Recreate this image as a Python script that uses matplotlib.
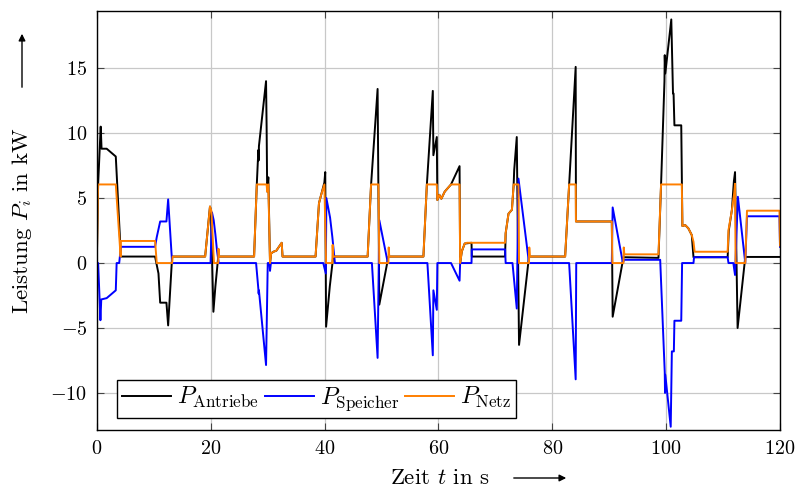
#!/usr/bin/env python3

import numpy as np
import matplotlib
matplotlib.use("Agg")
import matplotlib.pyplot as plt

# Leistung der Antriebe (schwarz)
t_antriebe = [0, 0.2, 0.65, 0.8, 1.7, 3.3, 4.2, 10.2, 10.8, 11.1, 12.2, 12.5, 13.2,
              19.0, 19.85, 20.0, 20.45, 20.8, 21.3,
              27.6, 28.07, 28.35, 28.4, 28.45, 29.7, 29.8, 29.9, 30.1, 30.4, 30.6, 31.0, 31.5, 32.45, 32.6,
              38.4, 39.0, 39.35, 39.95, 40.1, 40.25, 40.9, 41.5,
              47.55, 48.15, 49.3, 49.6, 51.2,
              57.35, 57.95, 59.0, 59.1, 59.7, 59.8, 60.15, 60.5, 61.1, 62.2, 63.7, 63.8, 64.1, 64.6, 65.8, 65.85,
              71.7, 71.8, 72.3, 72.9, 73.2, 73.3, 73.75, 74.15, 75.9,
              82.25, 82.95, 84.1, 84.15, 90.45, 90.6, 92.5,
              98.65, 99.1, 99.7, 99.75, 99.85, 100.9, 101.2, 101.3, 101.45, 102.65, 102.85,
              103.35, 103.9, 104.5, 104.8, 110.8, 111.0, 111.55, 111.9, 112.1, 112.55, 113.9, 120]
p_antriebe = [1.0, 6.1, 10.5, 8.8, 8.8, 8.2, 0.5, 0.5, -0.8, -3.05, -3.05, -4.8, 0.5,
              0.5, 4.35, 4.1, -3.75, -1.8, 0.5,
              0.5, 6.0, 8.7, 7.9, 9.0, 14.0, 10.5, 5.5, 6.6, 0.0, 0.75, 0.87, 0.95, 1.56, 0.5,
              0.5, 4.6, 5.2, 6.2, 7.0, -4.9, -1.8, 0.5,
              0.5, 6.0, 13.4, -3.2, 0.5,
              0.5, 6.0, 13.25, 8.3, 9.7, 4.85, 5.25, 4.95, 5.5, 6.05, 7.46, 0.0, 0.9, 1.5, 1.56, 0.5,
              0.5, 2.3, 3.8, 4.1, 6.0, 7.15, 9.7, -6.3, 0.5,
              0.5, 6.0, 15.1, 3.2, 3.2, -4.13, 0.45,
              0.4, 6.0, 14.0, 16.0, 14.6, 18.75, 13.05, 13.05, 10.6, 10.6, 2.85,
              2.92, 2.67, 2.15, 0.45, 0.45, 2.5, 4.1, 6.3, 7.0, -5.0, 0.47, 0.47]

# Leistung des Speichers (blau)
t_speicher = [0, 0.2, 0.6, 0.75, 1.7, 3.3, 3.45, 3.9, 4.2, 10.2, 10.5, 11.1, 12.2, 12.5, 13.2,
              19.95, 20.2, 20.5, 20.8, 21.1, 21.4,
              27.95, 28.35, 28.4, 28.45, 29.7, 30.0, 30.3, 30.4, 30.55,
              39.75, 40.2, 40.3, 40.95, 41.35, 41.8,
              48.3, 49.3, 49.6, 51.1,
              58.05, 59.0, 59.1, 59.7, 59.8, 62.2, 63.7, 63.8, 65.8, 65.85,
              71.7, 71.8, 73.0, 73.75, 74.05, 75.9,
              82.95, 84.1, 84.2, 90.45, 90.6, 92.4, 92.6,
              98.95, 99.75, 99.8, 99.85, 100.8, 101.0, 101.35, 101.45, 102.65, 102.8,
              104.8, 104.9, 110.8, 110.95, 111.8, 112.1, 112.6, 113.9, 114.2, 119.9, 120]
p_speicher = [0, 0, -4.4, -2.8, -2.7, -2.1, 0.0, 0.0, 1.25, 1.25, 2.0, 3.2, 3.2, 4.9, 0.0,
              0.0, 3.9, 3.3, 2.2, 0.9, 0.0,
              0.0, -2.0, -2.35, -2.1, -7.85, 0.0, 0.0, -0.6, 0.0,
              0.0, -0.8, 5.0, 3.5, 2.0, 0.0,
              0.0, -7.3, 3.3, 0.0,
              0.0, -7.1, -2.1, -3.6, 0.0, 0.0, -1.36, 0.0, 0.0, 1.05,
              1.05, 0.0, 0.0, -3.5, 6.5, 0.0,
              0.0, -8.95, 0.0, 0.0, 4.28, 0.0, 0.25,
              0.25, -8.4, -10.0, -8.6, -12.6, -6.8, -6.8, -4.44, -4.44, 0.0,
              0.0, 0.45, 0.45, 0.0, 0.0, -0.92, 5.1, 0.0, 3.6, 3.6, 1.25]

# Leistung aus dem Netz (orange)
t_netz = [0, 0.2, 3.3, 4.15, 4.2, 10.2, 10.5, 13.2, 13.3,
          19.0, 19.85, 20.1, 20.55, 21.3, 21.35, 21.45,
          27.6, 28.07, 29.8, 29.9, 30.1, 30.4, 30.6, 31.0, 31.5, 32.45, 32.6,
          38.4, 39.0, 39.35, 39.95, 40.25, 41.35, 41.4, 41.5,
          47.55, 48.15, 49.45, 49.6, 51.2, 51.25, 51.35,
          57.35, 57.95, 59.7, 59.8, 60.15, 60.5, 61.1, 62.2, 63.7, 63.8, 64.1, 64.6, 65.0,
          71.7, 71.8, 72.3, 72.9, 73.2, 74.05, 74.15, 75.9, 75.95, 76.05,
          82.25, 82.95, 84.1, 84.15, 90.45, 90.55, 92.5, 92.55, 92.65,
          98.65, 99.1, 102.75, 102.85, 103.35, 103.9, 104.5, 104.8, 105.0,
          110.8, 110.95, 111.55, 111.95, 112.1, 112.2, 113.9, 114.2, 119.9, 120]
p_netz = [1.0, 6.05, 6.05, 0.5, 1.7, 1.7, 0.0, 0.0, 0.5,
          0.5, 4.35, 4.0, 0.0, 0.0, 1.1, 0.5,
          0.5, 6.05, 6.05, 5.5, 6.05, 0.0, 0.75, 0.87, 0.95, 1.56, 0.5,
          0.5, 4.6, 5.2, 6.05, 0.0, 0.0, 1.4, 0.5,
          0.5, 6.05, 6.05, 0.0, 0.0, 1.2, 0.5,
          0.5, 6.05, 6.05, 4.85, 5.25, 4.95, 5.5, 6.05, 6.05, 0.0, 0.9, 1.5, 1.56,
          1.56, 2.3, 3.8, 4.1, 6.05, 6.05, 0.0, 0.0, 1.2, 0.5,
          0.5, 6.05, 6.05, 3.2, 3.2, 0.0, 0.0, 1.2, 0.67,
          0.67, 6.05, 6.05, 2.85, 2.92, 2.67, 2.15, 1.64, 0.87,
          0.87, 2.54, 4.08, 5.36, 6.1, 0.0, 0.0, 4.03, 4.03, 1.35]


def main():
    plt.rcParams["font.family"] = "cmr10"
    plt.rcParams["mathtext.fontset"] = "cm"
    plt.rcParams["axes.formatter.use_mathtext"] = True
    plt.rcParams["axes.unicode_minus"] = True

    fig = plt.figure(figsize=(7.96, 4.87), dpi=100)
    ax = fig.add_axes([97 / 796, 1 - 430 / 487, 683 / 796, 419 / 487])

    ax.plot(t_antriebe, p_antriebe, color="black", lw=1.4, label=r"$P_\mathrm{Antriebe}$")
    ax.plot(t_speicher, p_speicher, color="#0000ff", lw=1.4, label=r"$P_\mathrm{Speicher}$")
    ax.plot(t_netz, p_netz, color="#ff7f00", lw=1.4, label=r"$P_\mathrm{Netz}$")

    ax.set_xlim(0, 120)
    ax.set_ylim(-12.85, 19.4)
    ax.set_xticks(np.arange(0, 121, 20))
    ax.set_yticks(np.arange(-10, 16, 5))
    ax.grid(True, color="#c8c8c8", lw=0.9)
    ax.set_axisbelow(True)
    ax.tick_params(direction="in", top=True, right=True, length=5, width=0.8,
                   labelsize=14.5, color="#444444")
    ax.tick_params(axis="x", pad=7)
    ax.tick_params(axis="y", pad=7)
    for s in ax.spines.values():
        s.set_linewidth(1.0)

    leg = ax.legend(loc="lower left", bbox_to_anchor=(0.03, 0.028), ncol=3,
                    fontsize=17.5, frameon=True, fancybox=False, framealpha=1,
                    edgecolor="black", handlelength=2.0, handletextpad=0.25,
                    columnspacing=0.25, borderpad=0.2, borderaxespad=0)
    leg.get_frame().set_linewidth(1.0)

    # Achsenbeschriftungen mit Pfeilen
    fig.text(440 / 796, 1 - 478 / 487, r"Zeit $t$ in s", ha="center", va="center", fontsize=16.5)
    fig.text(22 / 796, 1 - 221 / 487, r"Leistung $P_i$ in kW", ha="center", va="center",
             rotation=90, fontsize=16.5)
    arrow = dict(arrowstyle="-|>", color="black", lw=1.0, mutation_scale=10)
    fig.add_artist(matplotlib.patches.FancyArrowPatch(
        (511 / 796, 1 - 478 / 487), (569 / 796, 1 - 478 / 487),
        transform=fig.transFigure, **arrow))
    fig.add_artist(matplotlib.patches.FancyArrowPatch(
        (22 / 796, 1 - 90 / 487), (22 / 796, 1 - 31 / 487),
        transform=fig.transFigure, **arrow))

    fig.savefig("out.png", dpi=100)


if __name__ == "__main__":
    main()
